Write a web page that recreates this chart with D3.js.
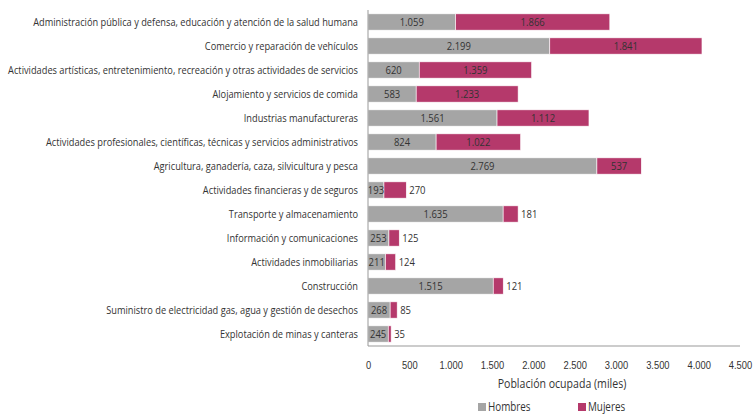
<!DOCTYPE html>
<html lang="es">
<head>
<meta charset="UTF-8">
<title>Población ocupada por rama</title>
<style>
  body { margin: 0; background: #fff; }
  svg { font-family: "Open Sans", sans-serif; }
  .cat { font-size: 11px; fill: #333; }
  .val { font-size: 11px; fill: #333; }
  .tick text { font-size: 11px; fill: #333; }
</style>
</head>
<body>
<svg id="chart" width="755" height="415"></svg>
<script src="https://cdn.jsdelivr.net/npm/d3@7"></script>
<script>
"use strict";

var categories = [
  "Administración pública y defensa, educación y atención de la salud humana",
  "Comercio y reparación de vehículos",
  "Actividades artísticas, entretenimiento, recreación y otras actividades de servicios",
  "Alojamiento y servicios de comida",
  "Industrias manufactureras",
  "Actividades profesionales, científicas, técnicas y servicios administrativos",
  "Agricultura, ganadería, caza, silvicultura y pesca",
  "Actividades financieras y de seguros",
  "Transporte y almacenamiento",
  "Información y comunicaciones",
  "Actividades inmobiliarias",
  "Construcción",
  "Suministro de electricidad gas, agua y gestión de desechos",
  "Explotación de minas y canteras"
];
var hombres = [1059, 2199, 620, 583, 1561, 824, 2769, 193, 1635, 253, 211, 1515, 268, 245];
var mujeres = [1866, 1841, 1359, 1233, 1112, 1022, 537, 270, 181, 125, 124, 121, 85, 35];
var xTicks = [0, 500, 1000, 1500, 2000, 2500, 3000, 3500, 4000, 4500];
var seriesNames = ["Hombres", "Mujeres"];
var colors = ["#a5a5a5", "#b5396b"];

var svg = d3.select("#chart");
var mLeft = 368, mRight = 740, mTop = 10, mBottom = 346;

var x = d3.scaleLinear().domain([0, 4500]).range([mLeft, mRight]);
var y = d3.scaleBand().domain(categories).range([mTop, mBottom]).paddingInner(0.32).paddingOuter(0.16);

var fmt = function(v) { return d3.format(",")(v).replace(/,/g, "."); };

// squeeze text horizontally to look like a condensed font
function condense(sel, k) {
  sel.each(function() {
    var w = this.getComputedTextLength();
    d3.select(this).attr("textLength", w * k).attr("lengthAdjust", "spacingAndGlyphs");
  });
}

var rows = categories.map(function(c, i) {
  return { cat: c, parts: [
    { s: 0, x0: 0, x1: hombres[i], v: hombres[i] },
    { s: 1, x0: hombres[i], x1: hombres[i] + mujeres[i], v: mujeres[i] }
  ]};
});

// category labels
svg.selectAll(".cat").data(categories).enter().append("text")
  .attr("class", "cat")
  .attr("x", mLeft - 10)
  .attr("y", function(d) { return y(d) + y.bandwidth() / 2; })
  .attr("dy", "0.35em")
  .attr("text-anchor", "end")
  .text(function(d) { return d; })
  .call(condense, 0.84);

var g = svg.selectAll(".row").data(rows).enter().append("g")
  .attr("transform", function(d) { return "translate(0," + y(d.cat) + ")"; });

g.selectAll("rect").data(function(d) { return d.parts; }).enter().append("rect")
  .attr("x", function(d) { return x(d.x0); })
  .attr("y", 0)
  .attr("width", function(d) { return x(d.x1) - x(d.x0); })
  .attr("height", y.bandwidth())
  .attr("fill", function(d) { return colors[d.s]; })
  .attr("stroke", "#fff")
  .attr("stroke-width", 0.6);

g.selectAll(".val").data(function(d) { return d.parts; }).enter().append("text")
  .attr("class", "val")
  .attr("y", y.bandwidth() / 2)
  .attr("dy", "0.35em")
  .attr("x", function(d) {
    var w = x(d.x1) - x(d.x0);
    if (d.s === 1 && w < 26) return x(d.x1) + 3;
    return (x(d.x0) + x(d.x1)) / 2;
  })
  .attr("text-anchor", function(d) {
    var w = x(d.x1) - x(d.x0);
    return (d.s === 1 && w < 26) ? "start" : "middle";
  })
  .text(function(d) { return fmt(d.v); })
  .call(condense, 0.86);

// axes lines
svg.append("line").attr("x1", mLeft).attr("x2", mLeft).attr("y1", mTop).attr("y2", mBottom)
  .attr("stroke", "#999").attr("stroke-width", 1);
svg.append("line").attr("x1", mLeft).attr("x2", mRight).attr("y1", mBottom).attr("y2", mBottom)
  .attr("stroke", "#999").attr("stroke-width", 1);

var ax = svg.append("g").attr("transform", "translate(0," + (mBottom + 12) + ")")
  .call(d3.axisBottom(x).tickValues(xTicks).tickSize(0).tickFormat(fmt));
ax.select(".domain").remove();
ax.selectAll("text").attr("dy", "0.71em").call(condense, 0.85);

svg.append("text")
  .attr("x", (mLeft + mRight) / 2 + 8)
  .attr("y", 388)
  .attr("text-anchor", "middle")
  .attr("font-size", 12)
  .attr("fill", "#333")
  .text("Población ocupada (miles)")
  .call(condense, 0.88);

// legend
var legendX = [478, 578];
var lg = svg.selectAll(".leg").data(seriesNames).enter().append("g")
  .attr("transform", function(d, i) { return "translate(" + legendX[i] + ",407)"; });
lg.append("rect").attr("x", 0).attr("y", -4).attr("width", 8).attr("height", 8)
  .attr("fill", function(d, i) { return colors[i]; });
lg.append("text").attr("x", 10).attr("y", 0).attr("dy", "0.35em")
  .attr("font-size", 12).attr("fill", "#333")
  .text(function(d) { return d; })
  .call(condense, 0.82);
</script>
</body>
</html>
